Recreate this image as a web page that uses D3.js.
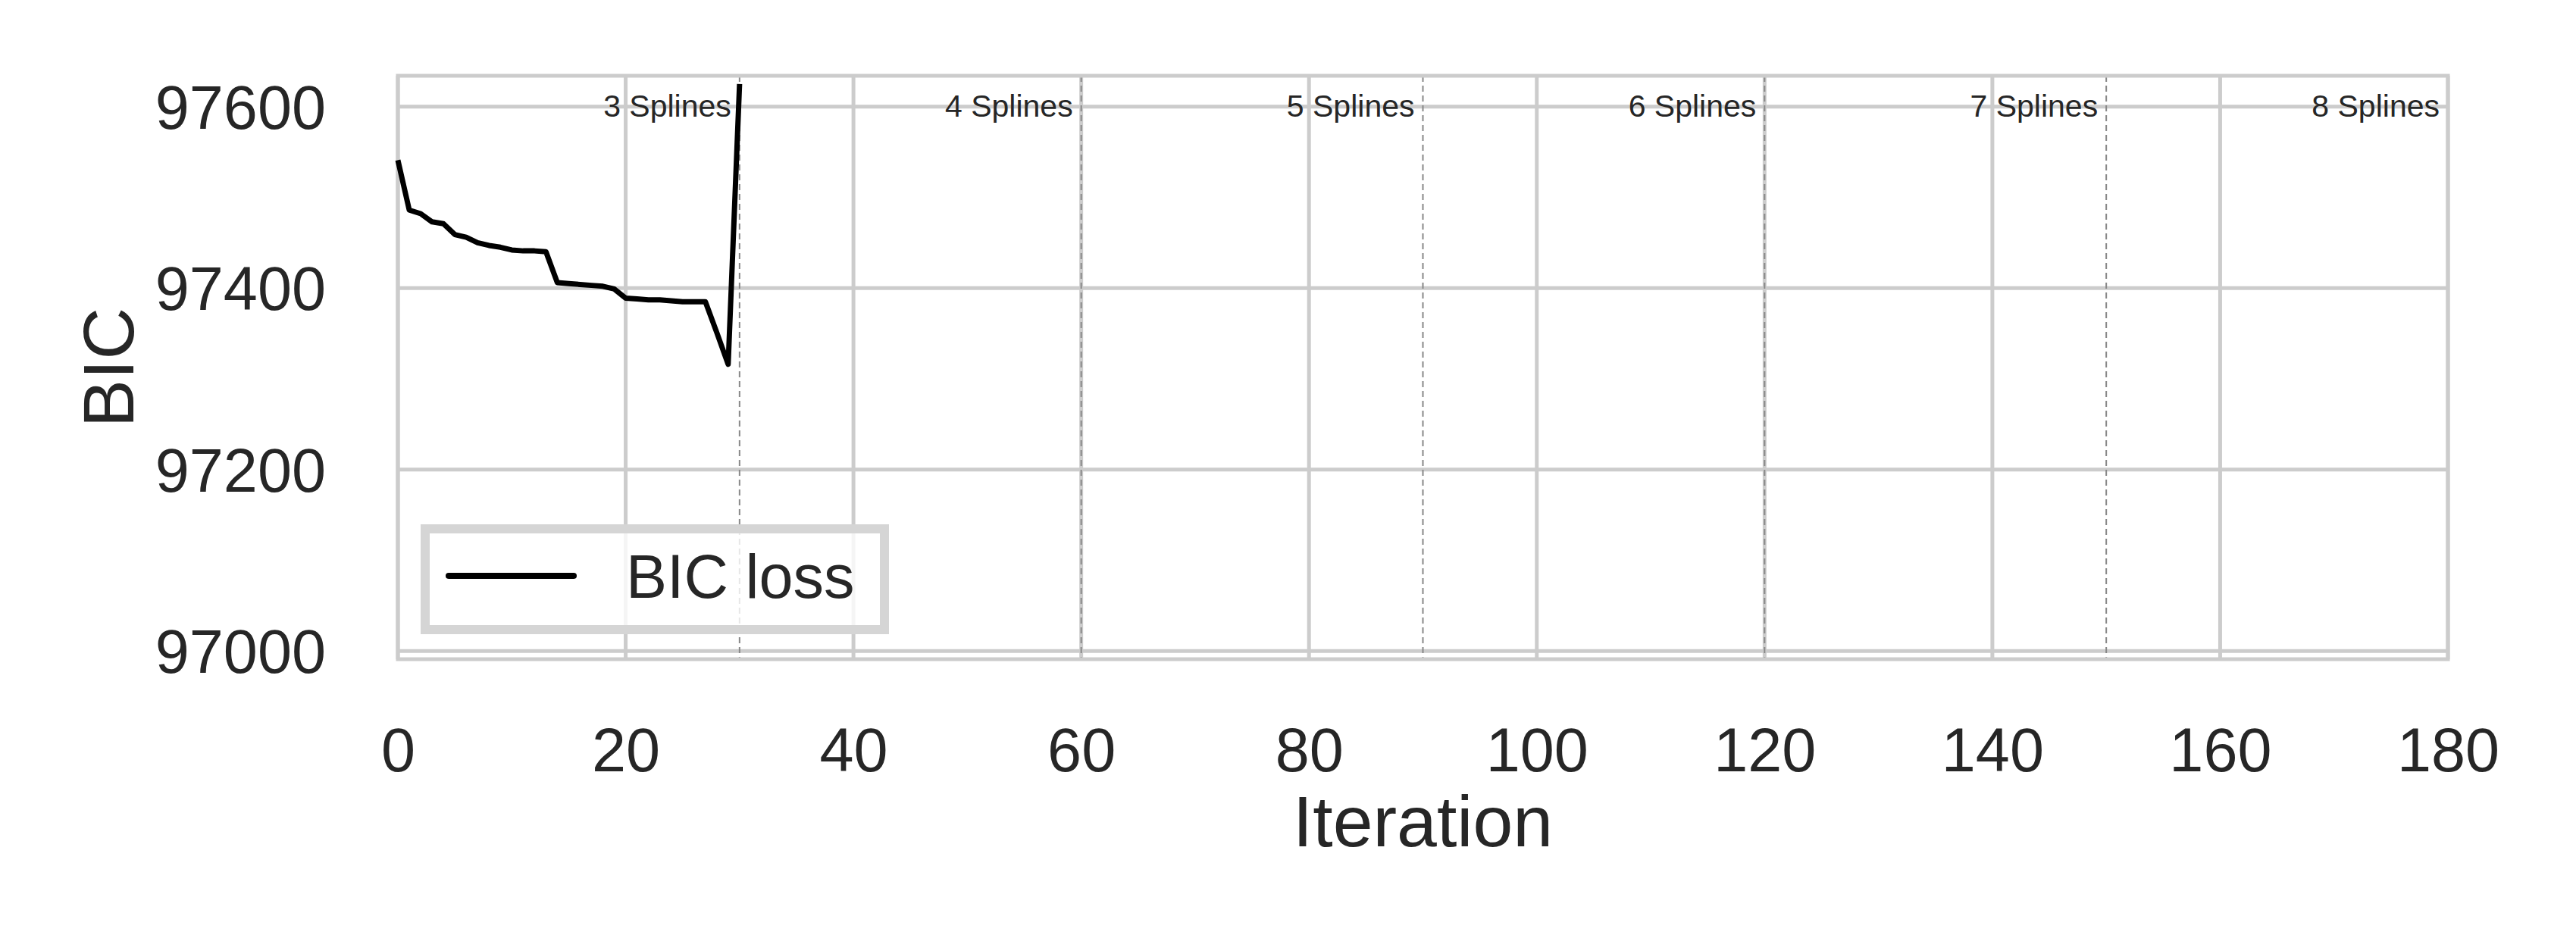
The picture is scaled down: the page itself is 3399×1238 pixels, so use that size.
<!DOCTYPE html>
<html><head><meta charset="utf-8">
<script src="https://cdn.jsdelivr.net/npm/d3@7"></script>
<style>body{margin:0;background:#fff}text{font-family:"Liberation Sans",Arial,sans-serif;fill:#262626}</style>
</head><body><svg id="c" width="3399" height="1238"></svg>
<script>
const iterations = d3.range(0, 31);
const bicValues = [97541,97486,97482,97473,97471,97459,97456,97450,97447,97445,97442,97441,97441,97440,
  97406,97405,97404,97403,97402,97399,97389,97388,97387,97387,97386,97385,97385,97385,97351,97316,97625];
const splineBreaks = [30,60,90,120,150,180];
const splineLabels = ["3 Splines","4 Splines","5 Splines","6 Splines","7 Splines","8 Splines"];
const xTicks = [0,20,40,60,80,100,120,140,160,180];
const yTicks = [97000,97200,97400,97600];

const svg = d3.select("#c");
const L=525,R=3230,T=100,B=870;
const x = d3.scaleLinear().domain([0,180]).range([L,R]);
const y = d3.scaleLinear().domain([96991,97634]).range([B,T]);

svg.append("g").selectAll("line").data(xTicks).join("line")
  .attr("x1",d=>x(d)).attr("x2",d=>x(d)).attr("y1",T).attr("y2",B)
  .attr("stroke","#cccccc").attr("stroke-width",5);
svg.append("g").selectAll("line").data(yTicks).join("line")
  .attr("x1",L).attr("x2",R).attr("y1",d=>y(d)).attr("y2",d=>y(d))
  .attr("stroke","#cccccc").attr("stroke-width",5);

const xa = svg.append("g").attr("transform",`translate(0,${B})`)
  .call(d3.axisBottom(x).tickValues(xTicks).tickSize(0).tickPadding(90).tickFormat(d3.format("d")));
const ya = svg.append("g").attr("transform",`translate(${L},0)`)
  .call(d3.axisLeft(y).tickValues(yTicks).tickSize(0).tickPadding(95).tickFormat(d3.format("d")));
[xa,ya].forEach(a=>{a.select(".domain").remove();a.selectAll("text").attr("font-size",81).attr("fill","#262626").attr("font-family","Liberation Sans, Arial");});
ya.selectAll("text").attr("dy","0.35em");
xa.selectAll("text").attr("dy","0.71em");

svg.append("g").selectAll("line").data(splineBreaks.slice(0,5)).join("line")
  .attr("x1",d=>x(d)).attr("x2",d=>x(d)).attr("y1",T).attr("y2",B)
  .attr("stroke","#888").attr("stroke-width",2).attr("stroke-dasharray","8,5");

svg.append("rect").attr("x",L).attr("y",T).attr("width",R-L).attr("height",B-T)
  .attr("fill","none").attr("stroke","#cccccc").attr("stroke-width",5);

svg.append("g").selectAll("text").data(splineBreaks).join("text")
  .attr("x",d=>x(d)-11).attr("y",154).attr("text-anchor","end").attr("font-size",41)
  .text((d,i)=>splineLabels[i]);

svg.append("path").datum(iterations)
  .attr("d",d3.line().x(i=>x(i)).y(i=>y(bicValues[i])))
  .attr("fill","none").attr("stroke","#000").attr("stroke-width",7).attr("stroke-linejoin","round");

svg.append("rect").attr("x",561).attr("y",698).attr("width",606).attr("height",133)
  .attr("fill","rgba(255,255,255,0.8)").attr("stroke","#d5d5d5").attr("stroke-width",12);
svg.append("line").attr("x1",592).attr("x2",757).attr("y1",760).attr("y2",760)
  .attr("stroke","#000").attr("stroke-width",8).attr("stroke-linecap","round");
svg.append("text").attr("x",826).attr("y",789).attr("font-size",81).text("BIC loss");

svg.append("text").attr("x",(L+R)/2).attr("y",1117).attr("text-anchor","middle").attr("font-size",95).text("Iteration");
svg.append("text").attr("transform",`translate(176,${(T+B)/2}) rotate(-90)`).attr("text-anchor","middle").attr("font-size",95).text("BIC");
</script></body></html>
